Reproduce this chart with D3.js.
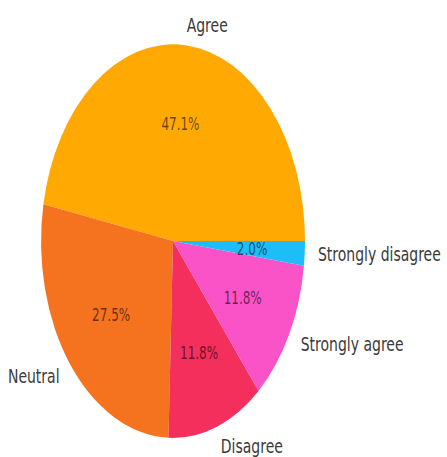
<!DOCTYPE html>
<html>
<head>
<meta charset="utf-8">
<script src="https://cdn.jsdelivr.net/npm/d3@7"></script>
<style>
  html, body { margin: 0; padding: 0; background: #fff; }
  svg { display: block; }
</style>
</head>
<body>
<svg id="chart" width="447" height="457"></svg>
<script>
const categories = ["Agree", "Neutral", "Disagree", "Strongly agree", "Strongly disagree"];
const values = [47.1, 27.5, 11.8, 11.8, 2.0];
const pctLabels = ["47.1%", "27.5%", "11.8%", "11.8%", "2.0%"];
const colors = ["#FFA902", "#F5731F", "#F52F5C", "#FA53C8", "#1FBDF7"];

const W = 447, H = 457;
const cx = 173, cy = 241;
const rx = 132, ry = 197;
const textStretch = 1.4;

const svg = d3.select("#chart");

// matplotlib-style: start at 3 o'clock, counterclockwise
const pie = d3.pie().sort(null).value(d => d)
  .startAngle(Math.PI / 2).endAngle(Math.PI / 2 - 2 * Math.PI);
const arcs = pie(values);

const arc = d3.arc().innerRadius(0).outerRadius(1);

const g = svg.append("g").attr("transform", `translate(${cx},${cy}) scale(${rx},${ry})`);
g.selectAll("path").data(arcs).enter().append("path")
  .attr("d", arc)
  .attr("fill", (d, i) => colors[i]);

function midDir(d) {
  const a = (d.startAngle + d.endAngle) / 2;
  return [Math.sin(a), -Math.cos(a)];
}

const tg = svg.append("g");
arcs.forEach((d, i) => {
  const [ux, uy] = midDir(d);
  tg.append("text")
    .attr("transform", `translate(${cx + ux * 1.1 * rx},${cy + uy * 1.1 * ry}) scale(1,${textStretch})`)
    .attr("text-anchor", ux > 0 ? "start" : "end")
    .attr("dominant-baseline", "central")
    .attr("font-family", "DejaVu Sans, sans-serif")
    .attr("font-size", 14)
    .attr("fill", "#3a3a3a")
    .text(categories[i]);
  tg.append("text")
    .attr("transform", `translate(${cx + ux * 0.6 * rx},${cy + uy * 0.6 * ry}) scale(1,${textStretch})`)
    .attr("text-anchor", "middle")
    .attr("dominant-baseline", "central")
    .attr("font-family", "DejaVu Sans, sans-serif")
    .attr("font-size", 12)
    .attr("fill", "#000")
    .attr("fill-opacity", 0.6)
    .text(pctLabels[i]);
});
</script>
</body>
</html>
